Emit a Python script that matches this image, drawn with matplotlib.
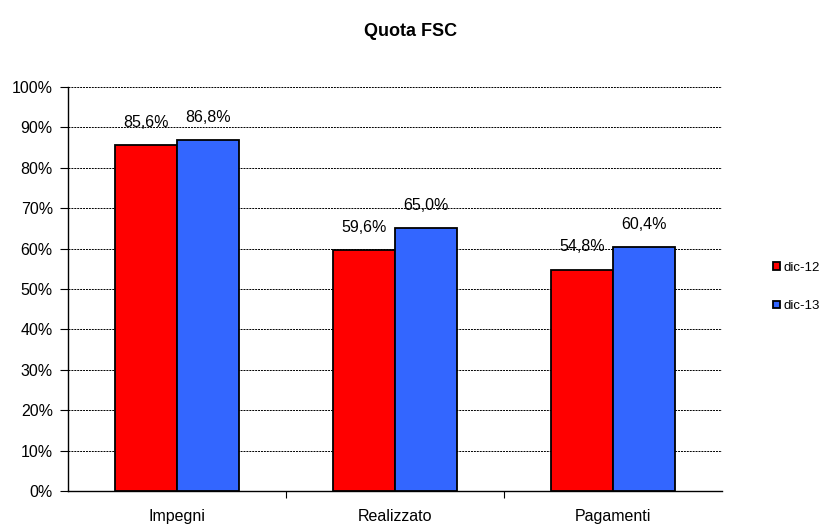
import numpy as np
import matplotlib.pyplot as plt
from matplotlib.ticker import MultipleLocator, FuncFormatter

plt.rcParams['font.family'] = ['Liberation Sans', 'DejaVu Sans']

categories = ["Impegni", "Realizzato", "Pagamenti"]
series_names = ["dic-12", "dic-13"]
dic12 = [85.6, 59.6, 54.8]
dic13 = [86.8, 65.0, 60.4]
colors = ["#ff0000", "#3366ff"]

fig = plt.figure(figsize=(8.21, 5.24), dpi=100)
ax = fig.add_axes([0.083, 0.063, 0.796, 0.771])

x = np.arange(len(categories))
w = 0.285
for i, (vals, name, col) in enumerate(zip([dic12, dic13], series_names, colors)):
    pos = x + (i - 0.5) * w
    bars = ax.bar(pos, vals, w, color=col, edgecolor="black", linewidth=1.3,
                  label=name, zorder=3)
    for b, v in zip(bars, vals):
        ax.annotate(f"{v:.1f}%".replace(".", ","),
                    (b.get_x() + b.get_width() / 2, v),
                    xytext=(0, 11), textcoords="offset points",
                    ha="center", va="bottom", fontsize=11.5)

ax.set_xlim(-0.5, 2.5)
ax.set_ylim(0, 100)
ax.yaxis.set_major_locator(MultipleLocator(10))
ax.yaxis.set_major_formatter(FuncFormatter(lambda v, p: f"{v:.0f}%"))
ax.grid(axis="y", color="black", linestyle=(0, (2, 1)), linewidth=0.7, zorder=0)

ax.set_xticks([0.5, 1.5], minor=False)
ax.set_xticklabels([])
ax.set_xticks(x, minor=True)
ax.set_xticklabels(categories, minor=True, fontsize=11.5)
ax.tick_params(axis="x", which="major", length=5, direction="out")
ax.tick_params(axis="x", which="minor", length=0, pad=13)
ax.tick_params(axis="y", length=6, direction="out", labelsize=11.5, pad=5)

for s in ["top", "right"]:
    ax.spines[s].set_visible(False)
for s in ["left", "bottom"]:
    ax.spines[s].set_linewidth(1.0)

fig.text(0.5, 0.939, "Quota FSC", fontsize=13, fontweight="bold",
         ha="center", va="center")

ax.legend(loc="center left", bbox_to_anchor=(1.06, 0.505), frameon=False,
          fontsize=9.5, handlelength=0.55, handleheight=0.55, labelspacing=2.0,
          handletextpad=0.3)

plt.savefig("out.png", dpi=100)
